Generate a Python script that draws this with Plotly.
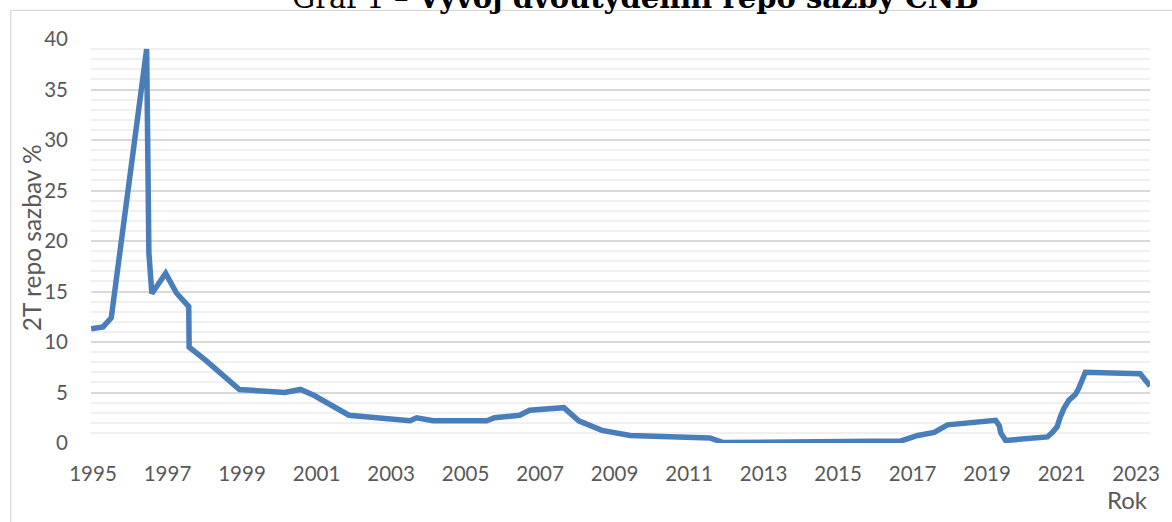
import plotly.graph_objects as go

# Data (x = position on the year axis, y = 2T repo rate %)
years = [1994.95, 1995.27, 1995.49, 1996.44, 1996.50, 1996.58, 1996.95, 1997.24, 1997.57, 1997.58,
         1998.02, 1998.93, 2000.15, 2000.57, 2000.94, 2001.87, 2003.51, 2003.69, 2004.13, 2005.57,
         2005.78, 2006.45, 2006.72, 2007.64, 2008.04, 2008.66, 2009.42, 2011.56, 2011.92, 2016.69,
         2017.14, 2017.58, 2017.94, 2019.23, 2019.33, 2019.37, 2019.50, 2020.35, 2020.62, 2020.75,
         2020.88, 2020.97, 2021.06, 2021.20, 2021.37, 2021.46, 2021.64, 2023.11, 2023.38]
rates = [11.3, 11.5, 12.4, 39.0, 18.8, 14.8, 16.8, 14.85, 13.5, 9.5,
         8.2, 5.3, 5.0, 5.3, 4.7, 2.75, 2.2, 2.5, 2.2, 2.2,
         2.5, 2.75, 3.25, 3.5, 2.2, 1.25, 0.75, 0.5, 0.05, 0.2,
         0.75, 1.05, 1.8, 2.25, 1.7, 1.0, 0.25, 0.5, 0.6, 1.03,
         1.6, 2.6, 3.4, 4.25, 4.8, 5.4, 7.0, 6.85, 5.65]
x_ticks = list(range(1995, 2024, 2))
y_ticks = [0, 5, 10, 15, 20, 25, 30, 35, 40]

title_plain = "Graf 1 – "
title_bold = "Vývoj dvoutýdenní repo sazby ČNB"
y_title = "2T repo sazbav %"
x_title = "Rok"

FONT = "Lato"
TXT = "#595959"

fig = go.Figure()
fig.add_trace(go.Scatter(x=years, y=rates, mode="lines",
                         line=dict(color="#4a7ebb", width=5.5, shape="linear"),
                         hoverinfo="x+y", showlegend=False))

W, H = 1172, 522
L, R, T, B = 91, 19, 39.3, 79.3
pw = W - L - R
ph = H - T - B

def px_x(p):
    return (p - L) / pw

def px_y(p):
    return (H - B - p) / ph

fig.update_layout(
    width=W, height=H,
    margin=dict(l=L, r=R, t=T, b=B),
    paper_bgcolor="white", plot_bgcolor="white",
    font=dict(family=FONT, size=20, color=TXT),
    xaxis=dict(range=[1994.946, 2023.375], tickmode="array", tickvals=x_ticks,
               ticktext=[str(v) for v in x_ticks], showgrid=False, zeroline=False,
               showline=False, ticks="", ticklabelstandoff=16,
               tickfont=dict(family=FONT, size=20.5, color=TXT)),
    yaxis=dict(range=[0, 40], tickmode="array", tickvals=y_ticks,
               showgrid=True, gridcolor="#d9d9d9", gridwidth=2, zeroline=False,
               showline=False, ticks="", ticklabelstandoff=22,
               tickfont=dict(family=FONT, size=20.5, color=TXT),
               minor=dict(dtick=1, showgrid=True, gridcolor="#f0f0f0", gridwidth=2)),
)

# chart frame (light border)
fig.add_shape(type="rect", xref="paper", yref="paper",
              x0=px_x(10.5), x1=px_x(1185), y0=px_y(535), y1=px_y(10.7),
              line=dict(color="#d9d9d9", width=1.3), fillcolor="rgba(0,0,0,0)", layer="below")

fig.add_annotation(text=f"{title_plain}<b>{title_bold}</b>", xref="paper", yref="paper",
                   x=px_x(637), y=px_y(17), xanchor="center", yanchor="bottom", showarrow=False,
                   font=dict(family="DejaVu Serif", size=29, color="black"))
fig.add_annotation(text=y_title, xref="paper", yref="paper", x=px_x(32), y=px_y(238),
                   xanchor="center", yanchor="middle", textangle=-90, showarrow=False,
                   font=dict(family=FONT, size=24.5, color=TXT))
fig.add_annotation(text=x_title, xref="paper", yref="paper", x=1.0, y=px_y(499),
                   xanchor="right", yanchor="middle", showarrow=False,
                   font=dict(family=FONT, size=24, color=TXT))

fig.write_html("out.html", config={"displayModeBar": False},
               post_script="document.body.style.margin='0';")
